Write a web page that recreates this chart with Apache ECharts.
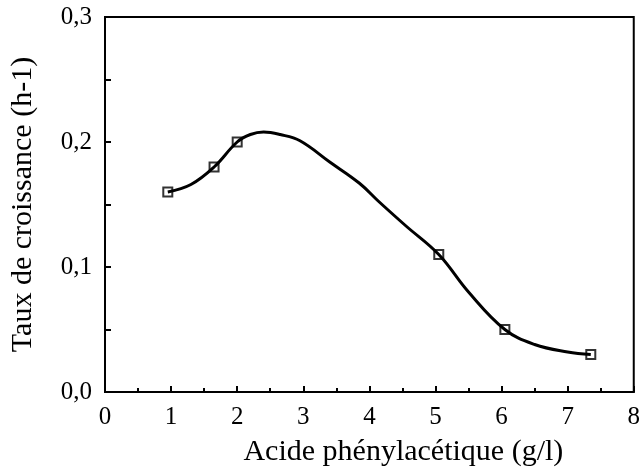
<!DOCTYPE html>
<html>
<head>
<meta charset="utf-8">
<script src="https://cdn.jsdelivr.net/npm/echarts@6/dist/echarts.min.js"></script>
<style>html,body{margin:0;padding:0;background:#fff}#c{width:643px;height:472px}</style>
</head>
<body>
<div id="c"></div>
<script>
// Measured points (acide phénylacétique g/l, taux de croissance h-1)
var pointsX = [0.95, 1.65, 2.0, 5.05, 6.05, 7.35];
var pointsY = [0.16, 0.18, 0.20, 0.11, 0.05, 0.03];
// Hand-drawn curve
var curveX = [0.95, 1.3, 1.65, 2.0, 2.2, 2.4, 2.65, 2.95, 3.4, 3.85, 4.15, 4.55, 5.05, 5.5, 6.05, 6.5, 7.0, 7.35];
var curveY = [0.16, 0.166, 0.18, 0.20, 0.206, 0.208, 0.206, 0.201, 0.184, 0.167, 0.152, 0.133, 0.11, 0.08, 0.05, 0.038, 0.032, 0.03];
var xTitle = 'Acide phénylacétique (g/l)';
var yTitle = 'Taux de croissance (h-1)';

var font = 'Liberation Serif';
var chart = echarts.init(document.getElementById('c'));
chart.setOption({
  animation: false,
  backgroundColor: '#fff',
  grid: {left: 105, right: 8, top: 17, bottom: 77, show: true, borderColor: '#000', borderWidth: 2},
  xAxis: {
    type: 'value', min: 0, max: 8, interval: 1,
    name: xTitle, nameLocation: 'middle', nameGap: 45,
    nameTextStyle: {fontFamily: font, fontSize: 30, color: '#000', padding: [0, 0, 0, 68]},
    axisLine: {lineStyle: {color: '#000', width: 2}},
    axisTick: {inside: true, length: 6, lineStyle: {color: '#000', width: 2}},
    minorTick: {show: true, splitNumber: 2, length: 4, lineStyle: {color: '#000', width: 2}},
    splitLine: {show: false},
    axisLabel: {fontFamily: font, fontSize: 25, color: '#000', margin: 13}
  },
  yAxis: {
    type: 'value', min: 0, max: 0.3, interval: 0.1,
    name: yTitle, nameLocation: 'middle', nameGap: 67, nameRotate: 90,
    nameTextStyle: {fontFamily: font, fontSize: 30, color: '#000'},
    axisLine: {lineStyle: {color: '#000', width: 2}},
    axisTick: {inside: true, length: 6, lineStyle: {color: '#000', width: 2}},
    minorTick: {show: true, splitNumber: 2, length: 6, lineStyle: {color: '#000', width: 2}},
    splitLine: {show: false},
    axisLabel: {fontFamily: font, fontSize: 25, color: '#000', margin: 13,
      formatter: function (v) { return v.toFixed(1).replace('.', ','); }}
  },
  series: [
    {
      type: 'line', smooth: 0.4, symbol: 'none',
      data: curveX.map(function (x, i) { return [x, curveY[i]]; }),
      lineStyle: {color: '#000', width: 3}
    },
    {
      type: 'scatter', symbol: 'rect', symbolSize: 9,
      data: pointsX.map(function (x, i) { return [x, pointsY[i]]; }),
      itemStyle: {color: '#fff', borderColor: '#000', borderWidth: 2}
    }
  ]
});
</script>
</body>
</html>
